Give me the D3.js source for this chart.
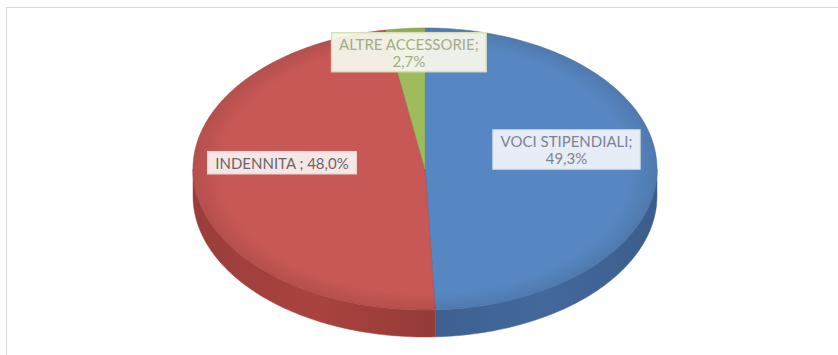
<!DOCTYPE html>
<html>
<head>
<meta charset="utf-8">
<script src="https://cdn.jsdelivr.net/npm/d3@7"></script>
<style>
  html, body { margin: 0; padding: 0; background: #ffffff; }
  svg { display: block; }
</style>
</head>
<body>
<svg id="chart" width="838" height="355"></svg>
<script>
// Composizione della spesa
const categories = ["VOCI STIPENDIALI", "INDENNITA ", "ALTRE ACCESSORIE"];
const values = [49.3, 48.0, 2.7];
const topColors = ["#5787c2", "#c85855", "#9dbd5c"];
const sideColors = ["#43699c", "#a9433f", "#7e9a45"];
const labelInk = ["#7d8395", "#6e6464", "#a2ac8b"];
const labelFill = ["#eff2f9", "#f9efef", "#f5f5eb"];
const labelEdge = ["#dfe5f1", "#efdcdc", "#d9dfb8"];
const labelLines = [["VOCI STIPENDIALI;", "49,3%"], ["INDENNITA ; 48,0%"], ["ALTRE ACCESSORIE;", "2,7%"]];

const W = 838, H = 355;
const cx = 425, cy = 169, rx = 232, ry = 141, depth = 27;

const svg = d3.select("#chart");

// chart area frame
svg.append("rect")
  .attr("x", 6.5).attr("y", 7.5)
  .attr("width", W).attr("height", H)
  .attr("fill", "#ffffff")
  .attr("stroke", "#d9d9d9").attr("stroke-width", 1);

const pie = d3.pie().sort(null).value(d => d).startAngle(0).endAngle(2 * Math.PI);
const arcs = pie(values);

// angle measured clockwise from 12 o'clock, projected onto the tilted ellipse
const px = a => cx + rx * Math.sin(a);
const py = a => cy - ry * Math.cos(a);

const defs = svg.append("defs");
arcs.forEach((d, i) => {
  const g = defs.append("linearGradient")
    .attr("id", "side" + i)
    .attr("x1", 0).attr("y1", 0).attr("x2", 1).attr("y2", 0);
  g.append("stop").attr("offset", "0%").attr("stop-color", d3.color(sideColors[i]).darker(0.25));
  g.append("stop").attr("offset", "50%").attr("stop-color", sideColors[i]);
  g.append("stop").attr("offset", "100%").attr("stop-color", d3.color(sideColors[i]).darker(0.35));
});

function edgePoints(a0, a1, dy) {
  const n = Math.max(2, Math.ceil((a1 - a0) / 0.02));
  return d3.range(n + 1).map(k => {
    const a = a0 + (a1 - a0) * k / n;
    return [px(a), py(a) + dy];
  });
}

const line = d3.line();

// visible rim (front half of the disc)
const sideLayer = svg.append("g");
arcs.forEach((d, i) => {
  const a0 = Math.max(d.startAngle, Math.PI / 2);
  const a1 = Math.min(d.endAngle, 3 * Math.PI / 2);
  if (a1 <= a0) return;
  const pts = edgePoints(a0, a1, 0).concat(edgePoints(a0, a1, depth).reverse());
  sideLayer.append("path")
    .attr("d", line(pts) + "Z")
    .attr("fill", "url(#side" + i + ")")
    .attr("stroke", sideColors[i]).attr("stroke-width", 0.5);
});

// top face
const faceLayer = svg.append("g");
arcs.forEach((d, i) => {
  const pts = [[cx, cy]].concat(edgePoints(d.startAngle, d.endAngle, 0));
  faceLayer.append("path")
    .attr("d", line(pts) + "Z")
    .attr("fill", topColors[i])
    .attr("stroke", d3.color(topColors[i]).darker(0.4)).attr("stroke-width", 0.6)
    .attr("stroke-linejoin", "round");
});

// soft bevel along the edge of the top face
const bevel = defs.append("radialGradient")
  .attr("id", "bevel").attr("cx", 0.5).attr("cy", 0.5).attr("r", 0.5);
bevel.append("stop").attr("offset", "88%").attr("stop-color", "#000").attr("stop-opacity", 0);
bevel.append("stop").attr("offset", "100%").attr("stop-color", "#000").attr("stop-opacity", 0.1);
faceLayer.append("ellipse")
  .attr("cx", cx).attr("cy", cy).attr("rx", rx).attr("ry", ry)
  .attr("fill", "url(#bevel)");

// data labels
const labelPlace = [
  { k: 0.61, dy: -17 },
  { k: 0.62, dy: -15 },
  { k: 0.82, dy: -1 }
];
const fontSize = 15, lineH = 17;
const labelLayer = svg.append("g")
  .attr("font-family", "Lato, 'Open Sans', sans-serif")
  .attr("font-size", fontSize);

arcs.forEach((d, i) => {
  const mid = (d.startAngle + d.endAngle) / 2;
  const p = labelPlace[i];
  const lx = cx + rx * p.k * Math.sin(mid);
  const ly = cy - ry * p.k * Math.cos(mid) + p.dy;
  const g = labelLayer.append("g").attr("transform", `translate(${lx},${ly})`);
  const rect = g.append("rect");
  const txt = g.append("text")
    .attr("text-anchor", "middle")
    .attr("fill", labelInk[i]);
  const ls = labelLines[i];
  ls.forEach((s, j) => {
    txt.append("tspan")
      .attr("x", 0)
      .attr("y", (j - (ls.length - 1) / 2) * lineH + fontSize * 0.36)
      .text(s);
  });
  const bb = txt.node().getBBox();
  rect.attr("x", bb.x - 7.5).attr("y", bb.y - 2)
    .attr("width", bb.width + 15).attr("height", bb.height + 4)
    .attr("fill", labelFill[i]).attr("fill-opacity", 0.95)
    .attr("stroke", labelEdge[i]).attr("stroke-width", 1.5);
});
</script>
</body>
</html>
